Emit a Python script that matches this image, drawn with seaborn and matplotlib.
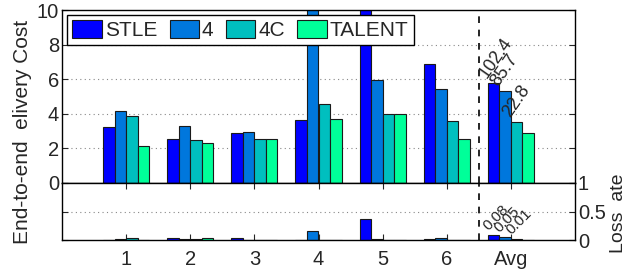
import matplotlib
matplotlib.use("Agg")
import matplotlib.pyplot as plt
import seaborn as sns
import pandas as pd
import numpy as np

groups = ["1", "2", "3", "4", "5", "6", "Avg"]
methods = ["STLE", "4", "4C", "TALENT"]
colors = ["#0000FF", "#0077DD", "#00BFBF", "#00FF99"]

cost_stle = [3.24, 2.56, 2.89, 3.64, 12.0, 6.88, 5.78]
cost_4 = [4.16, 3.30, 2.95, 12.0, 5.95, 5.43, 5.32]
cost_4c = [3.86, 2.47, 2.54, 4.57, 3.98, 3.60, 3.50]
cost_talent = [2.16, 2.33, 2.54, 3.68, 3.98, 2.52, 2.87]

loss_stle = [0.005, 0.03, 0.04, 0.0, 0.36, 0.02, 0.08]
loss_4 = [0.02, 0.01, 0.005, 0.16, 0.02, 0.03, 0.05]
loss_4c = [0.03, 0.01, 0.0, 0.0, 0.0, 0.0, 0.01]
loss_talent = [0.005, 0.03, 0.0, 0.0, 0.0, 0.0, 0.005]

avg_cost_labels = ["102.4", "85.7", "22.8"]
avg_loss_labels = ["0.08", "0.05", "0.01"]

cost = {"STLE": cost_stle, "4": cost_4, "4C": cost_4c, "TALENT": cost_talent}
loss = {"STLE": loss_stle, "4": loss_4, "4C": loss_4c, "TALENT": loss_talent}
rows = []
for m in methods:
    for i, g in enumerate(groups):
        rows.append({"group": g, "method": m, "cost": cost[m][i], "loss": loss[m][i]})
df = pd.DataFrame(rows)

sns.set_style("white")
plt.rcParams["font.family"] = ["Liberation Sans", "DejaVu Sans"]

fig = plt.figure(figsize=(6.29, 2.72), dpi=100)
L, R = 62 / 629, 575 / 629
ax_top = fig.add_axes([L, 1 - 183 / 272, R - L, 173 / 272])
ax_bot = fig.add_axes([L, 1 - 240 / 272, R - L, 57 / 272])

for ax, col in [(ax_top, "cost"), (ax_bot, "loss")]:
    sns.barplot(data=df, x="group", y=col, hue="method", order=groups,
                hue_order=methods, palette=colors, width=0.72,
                edgecolor="#1a1a1a", linewidth=0.8, saturation=1,
                ax=ax, legend=(ax is ax_top), errorbar=None)
    ax.set_xlim(-1, 7)
    ax.axvline(5.5, color="black", linestyle=(0, (4, 4)), linewidth=1.2)
    for s in ax.spines.values():
        s.set_color("black")
        s.set_linewidth(1.0)
    ax.set_xlabel("")
    ax.set_ylabel("")

# top axes
ax_top.set_ylim(0, 10)
ax_top.set_yticks([0, 2, 4, 6, 8, 10])
ax_top.set_yticklabels(["0", "2", "4", "6", "8", "10"])
ax_top.set_xticks([])
ax_top.tick_params(axis="y", direction="in", left=True, right=True, labelsize=14.5,
                   length=4, pad=2)
for yv in [2, 4, 6, 8]:
    ax_top.axhline(yv, color="#888888", linestyle=(0, (1, 3)), linewidth=0.8, zorder=0)

# bottom axes
ax_bot.set_ylim(0, 1)
ax_bot.set_yticks([0, 0.5, 1])
ax_bot.set_yticklabels(["0", "0.5", "1"])
ax_bot.yaxis.tick_right()
ax_bot.tick_params(axis="y", direction="in", left=True, right=True, labelleft=False,
                   labelright=True, labelsize=14.5, length=4, pad=2)
ax_bot.tick_params(axis="x", direction="in", top=True, bottom=True, labelsize=14.5,
                   length=4, pad=7)
ax_bot.set_xticks(range(len(groups)))
ax_bot.set_xticklabels(groups)
ax_bot.axhline(0.5, color="#888888", linestyle=(0, (1, 3)), linewidth=0.8, zorder=0)

# annotations
for k, lab in enumerate(avg_cost_labels):
    p = ax_top.containers[k][6]
    ax_top.text(p.get_x() + p.get_width() / 2 - 0.05, p.get_height() + 0.1, lab,
                rotation=55, rotation_mode="anchor", ha="left", va="bottom", fontsize=13)
for k, lab in enumerate(avg_loss_labels):
    p = ax_bot.containers[k][6]
    ax_bot.text(p.get_x() + p.get_width() / 2 - 0.05, p.get_height() + 0.04, lab,
                rotation=45, rotation_mode="anchor", ha="left", va="bottom", fontsize=11)

leg = ax_top.legend(loc="upper left", ncol=4, fontsize=15, frameon=True, fancybox=False,
                    edgecolor="black", framealpha=1, handlelength=1.4, handleheight=0.9,
                    handletextpad=0.15, columnspacing=0.6, borderpad=0.25,
                    borderaxespad=0.25, bbox_to_anchor=(0.0, 1.0))
leg.get_frame().set_linewidth(1.0)

fig.text(0.036, 0.515, "End-to-end  elivery Cost", rotation=90, ha="center", va="center",
         fontsize=15)
fig.text(0.984, 0.215, "Loss  ate", rotation=90, ha="center", va="center",
         fontsize=14)

fig.savefig("out.png", dpi=100)
